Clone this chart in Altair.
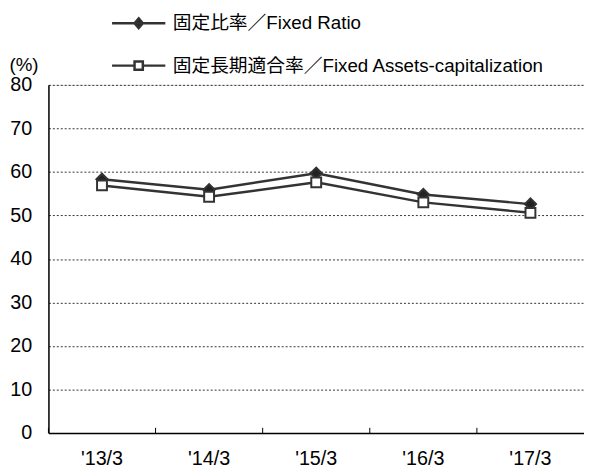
import altair as alt
import pandas as pd

categories = ["'13/3", "'14/3", "'15/3", "'16/3", "'17/3"]
series_names = ["固定比率／Fixed Ratio", "固定長期適合率／Fixed Assets-capitalization"]
fixed_ratio = [58.3, 55.9, 59.7, 54.8, 52.6]
fixed_assets_cap = [56.9, 54.3, 57.6, 53.0, 50.6]
y_ticks = [0, 10, 20, 30, 40, 50, 60, 70, 80]

rows = []
for s, vals in zip(series_names, [fixed_ratio, fixed_assets_cap]):
    for c, v in zip(categories, vals):
        rows.append({"cat": c, "series": s, "value": v})
df = pd.DataFrame(rows)
df_fr = df[df["series"] == series_names[0]].rename(columns={"series": "s_fr"})
df_fa = df[df["series"] == series_names[1]].rename(columns={"series": "s_fa"})
tick_df = pd.DataFrame({"cat": categories})

FONT = "Liberation Sans, Arial, Noto Sans CJK JP, sans-serif"
DARK = "#333333"

x_scale = alt.Scale(type="band", paddingInner=0, paddingOuter=0)
x_axis = alt.Axis(title=None, labelAngle=0, ticks=False, tickSize=0, labelPadding=16,
                  labelFontSize=20, labelFont=FONT, labelColor="black",
                  domainColor="black", domainWidth=1.5, grid=False)
y_scale = alt.Scale(domain=[0, 80], nice=False, zero=True)
y_axis = alt.Axis(values=y_ticks, title="(%)", titleAngle=0, titleX=-40, titleY=-21,
                  titleAlign="left", titleBaseline="middle", titleFont=FONT, titleFontSize=19,
                  titleFontWeight="normal", titleColor="black",
                  labelFontSize=20, labelPadding=17, labelFont=FONT, labelColor="black",
                  ticks=False, tickSize=0, grid=True, gridDash=[2, 2], gridColor=DARK,
                  gridWidth=1, domainColor="black", domainWidth=1.5)

X = alt.X("cat:N", sort=categories, scale=x_scale, axis=x_axis)
Y = alt.Y("value:Q", scale=y_scale, axis=y_axis)

P_DIAMOND = "M-2.7,0H2.7M0,-0.5L0.42,0L0,0.5L-0.42,0Z"
P_SQUARE = "M-2.7,0H-0.42M-0.42,-0.42H0.42V0.42H-0.42ZM0.42,0H2.7"


def make_legend(path, fill, ly):
    return alt.Legend(
        title=None, orient="none", legendX=80, legendY=ly, direction="vertical",
        symbolType=path, symbolSize=400, symbolFillColor=fill, symbolStrokeColor=DARK,
        symbolStrokeWidth=2.5, symbolOpacity=1,
        labelOffset=23, labelFontSize=19, labelFont=FONT,
        labelColor="black", labelLimit=600, padding=0, offset=0,
    )


lines = alt.Chart(df).mark_line(color=DARK, strokeWidth=2.5).encode(
    x=X, y=Y, detail="series:N"
)

ticks = alt.Chart(tick_df).mark_rule(color="black", strokeWidth=1).encode(
    x=alt.X("cat:N", sort=categories, scale=x_scale, axis=x_axis, bandPosition=0),
    y=alt.YDatum(0),
    y2=alt.Y2Datum(1.2),
)

points_fr = alt.Chart(df_fr).mark_point(filled=True, opacity=1, stroke=DARK, strokeWidth=2,
                                         size=130, shape="diamond").encode(
    x=X, y=Y,
    color=alt.Color("s_fr:N", scale=alt.Scale(domain=[series_names[0]], range=["#222222"]),
                    legend=make_legend(P_DIAMOND, "#222222", -74)),
)

points_fa = alt.Chart(df_fa).mark_point(filled=True, opacity=1, stroke=DARK, strokeWidth=2,
                                         size=100, shape="square").encode(
    x=X, y=Y,
    fill=alt.Fill("s_fa:N", scale=alt.Scale(domain=[series_names[1]], range=["#ffffff"]),
                  legend=make_legend(P_SQUARE, "#ffffff", -31)),
)

chart = alt.layer(lines, ticks, points_fr, points_fa).properties(
    width=543, height=353,
    autosize=alt.AutoSizeParams(type="none"),
    padding={"left": 41, "top": 74.7, "right": 0, "bottom": 40},
).configure_view(stroke=None).configure(background="white")

chart.save("out.html", embed_options={"renderer": "svg", "actions": False})
